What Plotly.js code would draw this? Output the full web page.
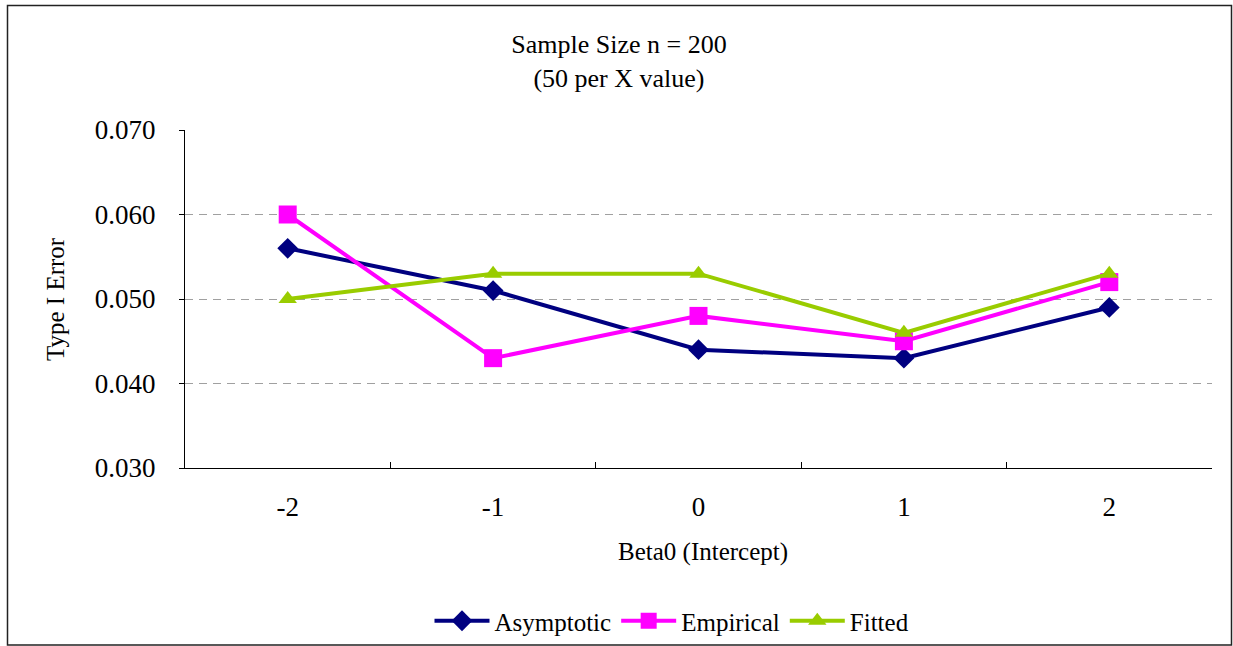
<!DOCTYPE html>
<html>
<head>
<meta charset="utf-8">
<script src="https://cdn.plot.ly/plotly-3.0.1.min.js"></script>
<style>
  html, body { margin: 0; padding: 0; background: #fff; }
  #chart { width: 1233px; height: 646px; }
</style>
</head>
<body>
<div id="chart"></div>
<script>
const categories = ["-2", "-1", "0", "1", "2"];
const asymptotic = [0.056, 0.051, 0.044, 0.043, 0.049];
const empirical  = [0.060, 0.043, 0.048, 0.045, 0.052];
const fitted     = [0.050, 0.053, 0.053, 0.046, 0.053];
const yTicks = [0.030, 0.040, 0.050, 0.060, 0.070];
const yTickLabels = ["0.030", "0.040", "0.050", "0.060", "0.070"];

const FONT = "Liberation Serif, Times New Roman, serif";

const traces = [
  { x: categories, y: asymptotic, name: "Asymptotic", type: "scatter", mode: "lines+markers",
    line: { color: "#000080", width: 4 },
    marker: { symbol: "diamond", size: 16, color: "#000080" } },
  { x: categories, y: empirical, name: "Empirical", type: "scatter", mode: "lines+markers",
    line: { color: "#FF00FF", width: 4 },
    marker: { symbol: "square", size: 18, color: "#FF00FF" } },
  { x: categories, y: fitted, name: "Fitted", type: "scatter", mode: "lines+markers",
    line: { color: "#99CC00", width: 4 },
    marker: { symbol: "triangle-up", size: 16, color: "#99CC00" } }
];

const L = 185, R = 1212, T = 130, B = 468;
const pw = R - L, ph = B - T;
function px2x(p) { return (p - L) / pw; }
function py2y(p) { return (B - p) / ph; }

const layout = {
  width: 1233, height: 646,
  margin: { l: L, r: 1233 - R, t: T, b: 646 - B, pad: 0, autoexpand: false },
  paper_bgcolor: "#fff", plot_bgcolor: "#fff",
  font: { family: FONT, color: "#000", size: 24 },
  title: {
    text: "Sample Size n = 200<br>(50 per X value)",
    font: { family: FONT, size: 26, color: "#000" },
    x: 0.502, xref: "container", xanchor: "center",
    y: 1 - 53 / 646, yref: "container", yanchor: "top"
  },
  showlegend: true,
  legend: {
    orientation: "h", x: px2x(672), xanchor: "center", y: py2y(621), yanchor: "middle",
    font: { family: FONT, size: 25, color: "#000" },
    itemwidth: 55, tracegroupgap: 0, bgcolor: "rgba(0,0,0,0)"
  },
  xaxis: {
    type: "category",
    range: [-0.5, 4.5],
    tickson: "boundaries",
    ticks: "inside", ticklen: 6, tickcolor: "#000", tickwidth: 1,
    ticklabelstandoff: 15,
    showline: true, linecolor: "#000", linewidth: 1,
    showgrid: false, zeroline: false, automargin: false,
    tickfont: { family: FONT, size: 27, color: "#000" },
    fixedrange: true
  },
  yaxis: {
    range: [0.030, 0.070],
    tickmode: "array", tickvals: yTicks, ticktext: yTickLabels,
    ticks: "outside", ticklen: 5, tickcolor: "#000", tickwidth: 1,
    ticklabelstandoff: 18,
    showline: true, linecolor: "#000", linewidth: 1,
    showgrid: true, gridcolor: "#A0A0A0", gridwidth: 1, griddash: "8px,6px",
    zeroline: false, automargin: false,
    tickfont: { family: FONT, size: 27, color: "#000" },
    fixedrange: true
  },
  annotations: [
    { text: "Beta0 (Intercept)", xref: "paper", yref: "paper",
      x: px2x(703), y: py2y(552), xanchor: "center", yanchor: "middle",
      showarrow: false, font: { family: FONT, size: 25, color: "#000" } },
    { text: "Type I Error", xref: "paper", yref: "paper",
      x: px2x(55), y: py2y(299), xanchor: "center", yanchor: "middle", textangle: -90,
      showarrow: false, font: { family: FONT, size: 25, color: "#000" } }
  ],
  shapes: [
    { type: "rect", xref: "paper", yref: "paper",
      x0: px2x(7.5), x1: px2x(1231.5), y0: py2y(645), y1: py2y(5.5),
      line: { color: "#222", width: 1.5 }, fillcolor: "rgba(0,0,0,0)", layer: "below" }
  ]
};

Plotly.newPlot("chart", traces, layout, { displayModeBar: false, staticPlot: true });
</script>
</body>
</html>
